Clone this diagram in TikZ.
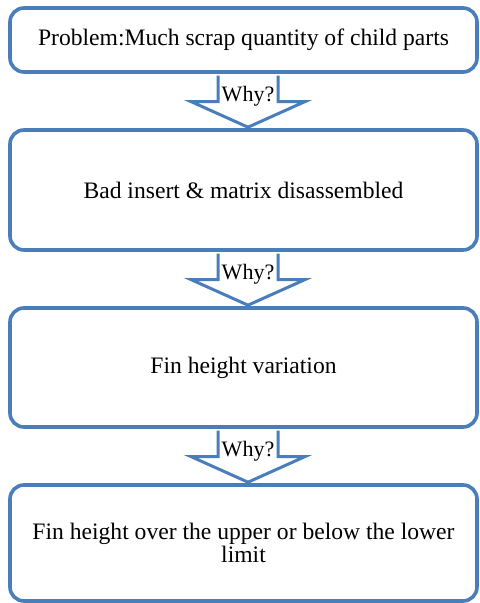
\documentclass[tikz,border=0pt]{standalone}
\usepackage{fontspec}
\setmainfont{Liberation Serif}
\usetikzlibrary{positioning,calc}
\definecolor{whyblue}{HTML}{4A7EBB}

\begin{document}
\begin{tikzpicture}[x=0.5pt,y=-0.5pt,
  box/.style={draw=whyblue, line width=1.8pt, rounded corners=7pt, fill=white,
    minimum width=233.5pt, align=center, font=\fontsize{11.8}{10.5}\selectfont},
  whyarrow/.style={draw=whyblue, line width=1.5pt, fill=white, line join=miter},
  whytext/.style={font=\fontsize{11}{13}\selectfont, inner sep=0pt}]
  \useasboundingbox (0,0) rectangle (479,603);

  % Cajas
  \node[box, minimum height=32pt] (problem) at (243.5,40)
    {Problem:Much scrap quantity of child parts};
  \node[box, minimum height=60pt] (insert) at (243.5,190)
    {Bad insert \& matrix disassembled};
  \node[box, minimum height=59.5pt] (fin) at (243.5,367.5)
    {Fin height variation};
  \node[box, minimum height=58pt] (limit) at (243.5,543)
    {Fin height over the upper or below the lower\\limit};

  % Flechas "Why?"
  \foreach \a/\b in {problem/insert, insert/fin, fin/limit}{
    \coordinate (s) at ($(\a.south)+(4.5,1.8)$);
    \coordinate (t) at ($(\b.north)+(4.5,-1)$);
    \draw[whyarrow] (s) ++(-30,0) -- ++(0,26) -- ++(-27,0) -- (t)
      -- ($(s)+(57,26)$) -- ++(-27,0) -- ++(0,-26);
    \node[whytext] at ($(s)+(0,21)$) {Why?};
  }
\end{tikzpicture}
\end{document}
